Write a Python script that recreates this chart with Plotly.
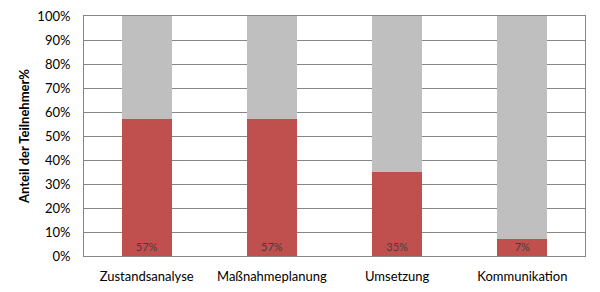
import plotly.graph_objects as go

categories = ["Zustandsanalyse", "Maßnahmeplanung", "Umsetzung", "Kommunikation"]
values = [57, 57, 35, 7]
rest = [100 - v for v in values]
labels = [f"{v}%" for v in values]
tick_vals = list(range(0, 101, 10))
tick_text = [f"{v}%" for v in tick_vals]

fig = go.Figure()
fig.add_trace(go.Bar(
    x=categories, y=values, marker_color="#C0504D", marker_line_width=0,
    text=labels, textposition="inside", insidetextanchor="start",
    textfont=dict(size=11, color="#404040", family="Lato"),
    textangle=0, constraintext="none",
))
fig.add_trace(go.Bar(
    x=categories, y=rest, marker_color="#BFBFBF", marker_line_width=0,
    hoverinfo="skip",
))
fig.update_layout(
    barmode="stack", bargap=0.6, showlegend=False,
    width=600, height=292,
    margin=dict(l=84, r=15, t=16, b=36),
    plot_bgcolor="white", paper_bgcolor="white",
    font=dict(family="Lato", size=13, color="#000000"),
)
fig.update_yaxes(
    range=[0, 100], tickvals=tick_vals, ticktext=tick_text,
    showgrid=True, gridcolor="#868686", gridwidth=1,
    showline=True, linecolor="#868686", mirror=True, linewidth=1,
    ticks="", ticklen=0, tickfont=dict(size=13), ticklabelstandoff=10,
    title=dict(text="<b>Anteil der Teilnehmer%</b>", font=dict(size=13), standoff=4),
    zeroline=False, automargin=False,
)
fig.update_xaxes(
    showline=True, linecolor="#868686", mirror=True, linewidth=1,
    ticks="", tickfont=dict(size=13), ticklabelstandoff=8, automargin=False,
)
fig.write_html("out.html")
